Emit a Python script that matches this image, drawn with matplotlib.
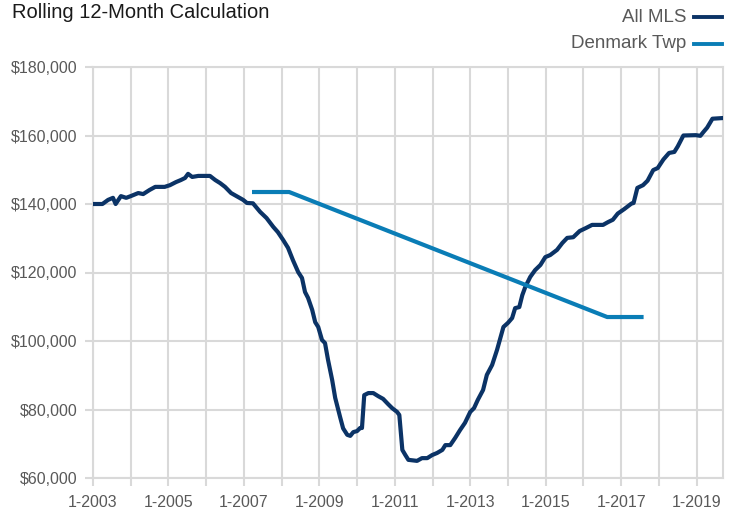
import matplotlib
matplotlib.use("Agg")
import matplotlib.pyplot as plt
from matplotlib.lines import Line2D
from matplotlib.ticker import FuncFormatter

plt.rcParams['font.family'] = ['Liberation Sans Narrow', 'Liberation Sans', 'DejaVu Sans']

# All MLS rolling 12-month value (decimal year, $ thousands)
mls_x = [2003.00, 2003.25, 2003.40, 2003.53, 2003.60, 2003.74, 2003.88, 2004.00, 2004.20, 2004.33,
         2004.50, 2004.65, 2004.90, 2005.04, 2005.20, 2005.33, 2005.44, 2005.52, 2005.63, 2005.79,
         2006.10, 2006.24, 2006.37, 2006.50, 2006.66, 2006.85, 2006.98, 2007.08, 2007.24, 2007.43,
         2007.60, 2007.78, 2007.90, 2008.04, 2008.17, 2008.30, 2008.44, 2008.54, 2008.62, 2008.70,
         2008.81, 2008.89, 2008.97, 2009.07, 2009.15, 2009.23, 2009.34, 2009.42, 2009.55, 2009.63,
         2009.74, 2009.82, 2009.90, 2010.00, 2010.08, 2010.13, 2010.19, 2010.30, 2010.43, 2010.56,
         2010.69, 2010.82, 2010.93, 2011.06, 2011.12, 2011.20, 2011.28, 2011.36, 2011.59, 2011.72,
         2011.86, 2011.99, 2012.12, 2012.26, 2012.34, 2012.47, 2012.60, 2012.73, 2012.86, 2013.00,
         2013.10, 2013.20, 2013.34, 2013.44, 2013.58, 2013.71, 2013.80, 2013.88, 2014.00, 2014.11,
         2014.19, 2014.30, 2014.38, 2014.46, 2014.59, 2014.72, 2014.86, 2014.99, 2015.12, 2015.30,
         2015.44, 2015.57, 2015.73, 2015.90, 2016.07, 2016.23, 2016.52, 2016.65, 2016.78, 2016.91,
         2017.08, 2017.27, 2017.33, 2017.43, 2017.58, 2017.70, 2017.85, 2017.97, 2018.12, 2018.27,
         2018.41, 2018.50, 2018.65, 2018.98, 2019.10, 2019.18, 2019.28, 2019.42, 2019.70]
mls_y = [140.0, 140.0, 141.2, 141.8, 140.0, 142.3, 141.8, 142.3, 143.2, 142.9,
         144.1, 145.0, 145.0, 145.5, 146.4, 147.0, 147.6, 148.8, 147.9, 148.2,
         148.2, 147.0, 146.1, 145.0, 143.2, 142.0, 141.2, 140.3, 140.2, 137.7,
         135.9, 133.3, 131.8, 129.5, 127.2, 123.6, 120.1, 118.4, 114.3, 112.6,
         109.1, 105.5, 104.1, 100.3, 99.4, 94.5, 88.6, 83.4, 77.8, 74.5,
         72.6, 72.3, 73.4, 73.7, 74.6, 74.6, 84.2, 84.8, 84.8, 83.9,
         83.1, 81.6, 80.4, 79.3, 78.4, 68.2, 66.7, 65.3, 65.0, 65.8,
         65.8, 66.7, 67.3, 68.2, 69.6, 69.6, 71.7, 74.0, 76.1, 79.3,
         80.4, 82.8, 85.7, 90.1, 93.0, 97.4, 100.9, 104.1, 105.3, 106.7,
         109.6, 109.9, 113.4, 115.8, 118.7, 120.7, 122.2, 124.5, 125.1, 126.6,
         128.6, 130.1, 130.3, 132.1, 133.0, 133.9, 133.9, 134.7, 135.4, 137.2,
         138.5, 140.1, 140.3, 144.7, 145.5, 146.8, 149.9, 150.5, 153.0, 154.9,
         155.2, 156.8, 160.0, 160.1, 159.9, 161.0, 162.3, 164.9, 165.1]

# Denmark Twp
den_x = [2007.27, 2008.20, 2016.63, 2017.54]
den_y = [143.5, 143.5, 107.0, 107.0]

year_ticks = list(range(2003, 2020))
label_years = [2003, 2005, 2007, 2009, 2011, 2013, 2015, 2017, 2019]
y_ticks = [60, 80, 100, 120, 140, 160, 180]

title = "Rolling 12-Month Calculation"
series_names = ["All MLS", "Denmark Twp"]
colors = ["#0b3366", "#0a7db6"]
grid_c = "#d9d9d9"
text_c = "#595959"

fig = plt.figure(figsize=(7.33, 5.15), dpi=100)
ax = fig.add_axes([93/733, 37/515, (723-93)/733, (478-67)/515])

ax.plot(mls_x, [v*1000 for v in mls_y], color=colors[0], lw=3.0, solid_joinstyle='round', zorder=3)
ax.plot(den_x, [v*1000 for v in den_y], color=colors[1], lw=3.0, solid_joinstyle='round', zorder=3)

ax.set_xlim(2003.0, 2019.70)
ax.set_ylim(60000, 180000)
ax.set_xticks(year_ticks)
ax.set_xticklabels([f"1-{y}" if y in label_years else "" for y in year_ticks])
ax.set_yticks([v*1000 for v in y_ticks])
ax.yaxis.set_major_formatter(FuncFormatter(lambda v, p: f"${v:,.0f}"))

ax.grid(True, color=grid_c, lw=1.5, zorder=0)
ax.set_axisbelow(True)
for s in ax.spines.values():
    s.set_color(grid_c)
    s.set_linewidth(1.5)
ax.tick_params(axis='both', color=grid_c, width=1.5, length=6, labelcolor=text_c, labelsize=11.5)
ax.tick_params(axis='y', pad=5)
ax.tick_params(axis='x', pad=6)

fig.text(12/733, 1-13/515, title, fontsize=14.5, color="#1a1a1a", ha='left', va='center')

leg_y = [17, 44]
for name, c, yy in zip(series_names, colors, leg_y):
    fy = 1 - yy/515
    fig.text(686/733, fy, name, fontsize=13.5, color=text_c, ha='right', va='center')
    fig.add_artist(Line2D([694/733, 722/733], [fy, fy], color=c, lw=2.8, transform=fig.transFigure))

fig.savefig("out.png", dpi=100)
